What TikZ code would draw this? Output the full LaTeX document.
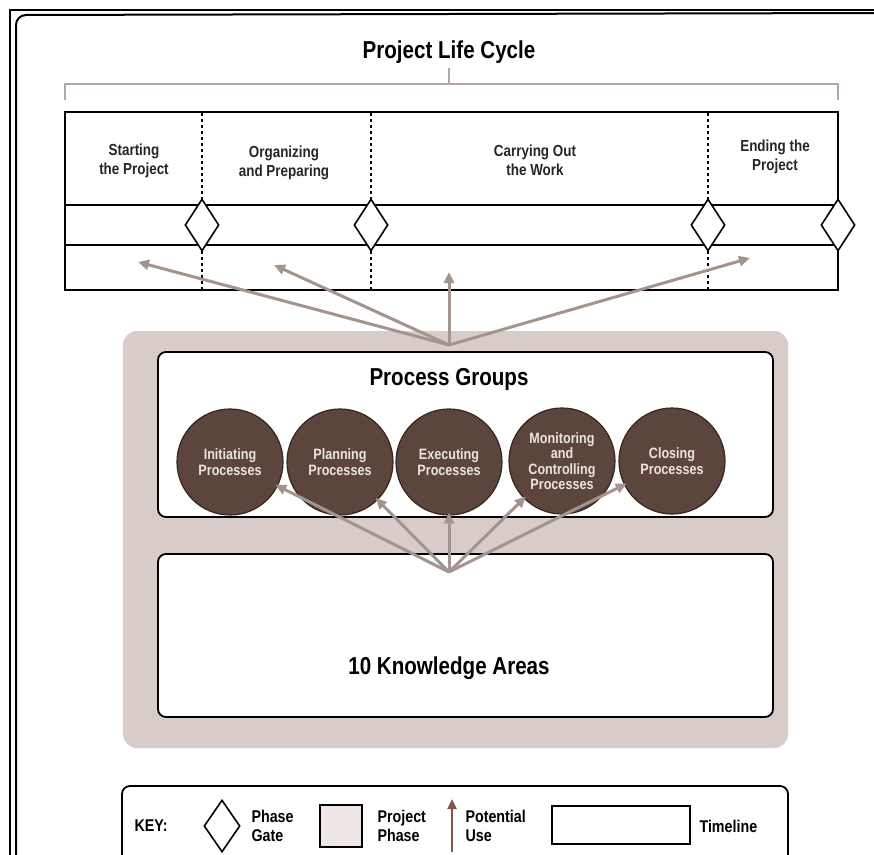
\documentclass[tikz,border=0pt]{standalone}
\usepackage{fontspec}
\setmainfont{Liberation Sans}[FakeStretch=0.84]
\usetikzlibrary{shapes.geometric,arrows.meta}
\definecolor{phasegray}{HTML}{D7CCC8}
\definecolor{bracketgray}{HTML}{B5A4A2}
\definecolor{arrowgray}{HTML}{A3948E}
\definecolor{procbrown}{HTML}{5C453D}
\definecolor{procedge}{HTML}{35261F}
\definecolor{proctext}{HTML}{ECE4E0}
\definecolor{usebrown}{HTML}{7B5B48}
\definecolor{keyfill}{HTML}{EFE6E6}
\tikzset{
  lbl/.style={font=\bfseries\fontsize{16}{19}\selectfont, align=center, text=black!85},
  bigtitle/.style={font=\bfseries\fontsize{24.5}{28}\selectfont},
  gate/.style={draw, line width=1.6pt, fill=white, shape=diamond, inner sep=0pt,
    minimum width=34pt, minimum height=52pt},
  procnode/.style={circle, draw=procedge, line width=1.2pt, fill=procbrown,
    minimum size=106pt, inner sep=0pt, text=proctext, align=center,
    font=\bfseries\fontsize{15}{15.5}\selectfont},
  use/.style={draw=arrowgray, line width=3pt,
    -{Triangle[length=11pt,width=10pt]}},
  dashdiv/.style={dash pattern=on 3pt off 3pt, line width=1.4pt},
  panel/.style={draw, line width=1.8pt, fill=white, rounded corners=8pt},
  keytxt/.style={font=\bfseries\fontsize{17}{19}\selectfont, align=left, anchor=west}
}
\begin{document}
\begin{tikzpicture}[x=1pt,y=-1pt]
\useasboundingbox (0,0) rectangle (874,854);
\fill[white] (0,0) rectangle (874,854);

% page frame
\draw[line width=1.6pt] (10,860) -- (10,10) -- (880,10);
\draw[line width=2pt, rounded corners=10pt] (16,860) -- (16,15) -- (880,13);

% life cycle heading and bracket
\node[bigtitle] (lctitle) at (449,52) {Project Life Cycle};
\draw[bracketgray, line width=2pt] (449,68) -- (449,83);
\draw[bracketgray, line width=2pt] (65,100) -- (65,84) -- (838,84) -- (838,100);

% timeline with phases
\draw[line width=1.8pt, fill=white] (65,112) rectangle (838,290);
\draw[line width=1.8pt] (65,205) -- (838,205);
\draw[line width=1.8pt] (65,245) -- (838,245);
\foreach \x in {202,371,708}
  \draw[dashdiv] (\x,113) -- (\x,289);

\node[lbl] (ph1) at (134,161) {Starting\\the Project};
\node[lbl] (ph2) at (284,163) {Organizing\\and Preparing};
\node[lbl] (ph3) at (535,160) {Carrying Out\\the Work};
\node[lbl] (ph4) at (775,157) {Ending the\\Project};

\node[gate] (g1) at (202,225) {};
\node[gate] (g2) at (371,225) {};
\node[gate] (g3) at (708,225) {};
\node[gate] (g4) at (838,225) {};

% landing points of the upward arrows
\coordinate (u1) at (138,262);
\coordinate (u2) at (274,265);
\coordinate (u3) at (449,272);
\coordinate (u4) at (750,258);

% project phase container
\fill[phasegray, rounded corners=14pt] (123,331) rectangle (788,748);
\coordinate (hubtop) at (449,345);
\coordinate (hubbot) at (449,572);

\draw[panel] (158,352) rectangle (773,517);
\node[bigtitle] (pgtitle) at (449,379) {Process Groups};
\node[procnode] (init) at (230,462) {Initiating\\Processes};
\node[procnode] (plan) at (340,462) {Planning\\Processes};
\node[procnode] (exec) at (449,462) {Executing\\Processes};
\node[procnode] (moni) at (562,461) {Monitoring\\and\\Controlling\\Processes};
\node[procnode] (clos) at (672,461) {Closing\\Processes};

\draw[panel] (158,554) rectangle (773,717);
\node[bigtitle] (katitle) at (449,668) {10 Knowledge Areas};

% potential use arrows
\foreach \t in {u1,u2,u3,u4}
  \draw[use] (hubtop) -- (\t);
\foreach \t in {init,plan,exec,moni,clos}
  \draw[use, shorten >=-3pt] (hubbot) -- (\t);

% key
\draw[line width=1.8pt, rounded corners=8pt] (122,870) -- (122,786) -- (788,786) -- (788,870);
\node[keytxt] (keylbl) at (131,826) {KEY:};
\node[gate, minimum width=36pt] (kgate) at (222,826) {};
\node[keytxt] (kgatetxt) at (248,826) {Phase\\Gate};
\node[draw, line width=1.4pt, fill=keyfill, minimum width=42pt, minimum height=42pt, inner sep=0pt] (kphase) at (341,826) {};
\node[keytxt] (kphasetxt) at (374,826) {Project\\Phase};
\coordinate (karrowbot) at (452,852);
\coordinate (karrowtop) at (452,799);
\draw[usebrown, line width=2.4pt, -{Triangle[length=10pt,width=9pt]}] (karrowbot) -- (karrowtop);
\node[keytxt] (kusetxt) at (462,826) {Potential\\Use};
\node[draw, line width=1.8pt, fill=white, minimum width=138pt, minimum height=38pt, inner sep=0pt] (ktl) at (621,825) {};
\node[keytxt] (ktltxt) at (696,826) {Timeline};
\end{tikzpicture}
\end{document}
